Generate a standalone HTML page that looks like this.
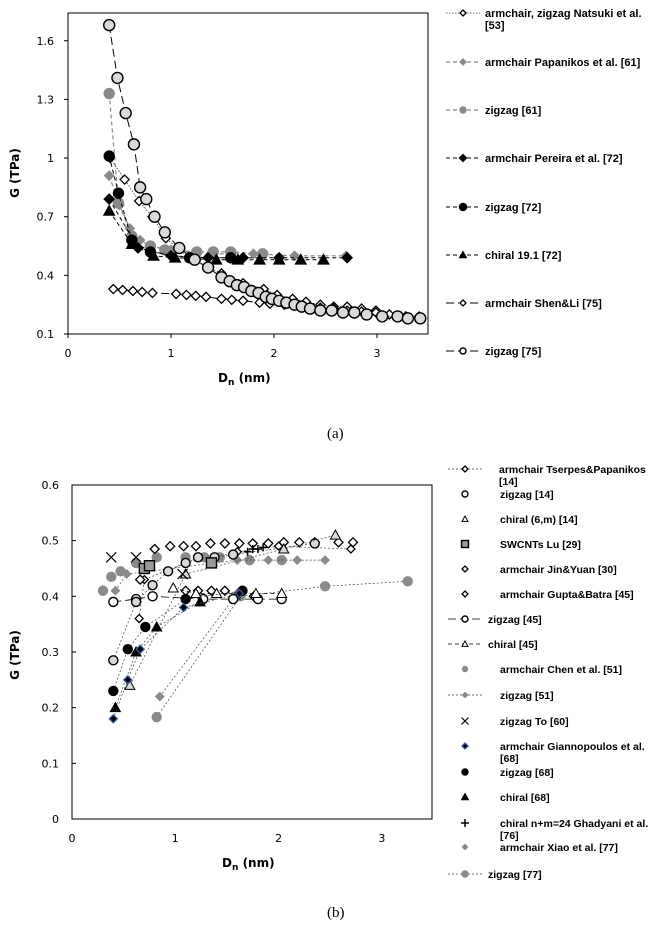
<!DOCTYPE html>
<html><head><meta charset="utf-8">
<style>
html,body{margin:0;padding:0;background:#fff;}
svg{display:block;font-family:"Liberation Sans","DejaVu Sans",sans-serif;}
.tick{font-family:"DejaVu Sans","Liberation Sans",sans-serif;font-size:11px;fill:#000;}
.lg{font-size:11px;font-weight:bold;fill:#000;}
.lg2{font-size:10.5px;font-weight:bold;fill:#000;}
.at{font-family:"DejaVu Sans","Liberation Sans",sans-serif;font-size:12px;font-weight:bold;}
.cap{font-family:"Liberation Serif",serif;font-size:15px;}
</style></head>
<body>
<svg id="chart" width="666" height="941" viewBox="0 0 666 941">
<rect x="68" y="13" width="360" height="321" fill="none" stroke="#000" stroke-width="1"/>
<rect x="72" y="485" width="360" height="334" fill="none" stroke="#000" stroke-width="1"/>
<text class="at" transform="translate(19,173) rotate(-90)" text-anchor="middle">G (TPa)</text>
<text class="at" x="218" y="382">D<tspan font-size="9" dy="3">n</tspan><tspan dy="-3"> (nm)</tspan></text>
<text class="at" transform="translate(19,655) rotate(-90)" text-anchor="middle">G (TPa)</text>
<text class="at" x="222" y="867">D<tspan font-size="9" dy="3">n</tspan><tspan dy="-3"> (nm)</tspan></text>
<text class="cap" x="327" y="438">(a)</text>
<text class="cap" x="327" y="917">(b)</text>
<g id="g"></g>
</svg>
<script>
// ---------- Chart (a) data ----------
const aTicksX=[0,1,2,3];
const aTicksY=[0.1,0.4,0.7,1,1.3,1.6];
const natsukiD=[0.41,0.55,0.69,0.82,0.95,1.2,1.49,1.7,1.9,2.03,2.18,2.31,2.45,2.58,2.71,2.85,2.99,3.12,3.28,3.41];
const natsukiG=[1.0,0.89,0.78,0.70,0.59,0.48,0.41,0.36,0.33,0.30,0.28,0.265,0.25,0.24,0.24,0.23,0.22,0.20,0.19,0.19];
const papD=[0.40,0.5,0.6,0.7,0.8,1.0,1.4,1.8,2.2,2.7];
const papG=[0.91,0.76,0.64,0.58,0.55,0.53,0.51,0.51,0.50,0.50];
const zz61D=[0.40,0.49,0.62,0.80,0.94,1.25,1.41,1.58,1.89];
const zz61G=[1.33,0.77,0.60,0.55,0.53,0.52,0.52,0.52,0.51];
const perD=[0.40,0.68,1.0,1.36,1.7,2.05,2.71];
const perG=[0.79,0.54,0.50,0.49,0.49,0.49,0.49];
const zz72D=[0.40,0.49,0.62,0.80,1.18,1.58];
const zz72G=[1.01,0.82,0.58,0.52,0.49,0.49];
const chiD=[0.40,0.62,0.83,1.04,1.44,1.65,1.86,2.05,2.26,2.48];
const chiG=[0.73,0.56,0.50,0.49,0.48,0.48,0.48,0.48,0.48,0.48];
const shenD=[0.44,0.53,0.63,0.72,0.82,1.05,1.15,1.24,1.34,1.49,1.59,1.7,1.86,1.96,2.1,2.3,2.45,2.58,2.71,2.85,2.99,3.12,3.28];
const shenG=[0.33,0.325,0.32,0.315,0.31,0.305,0.30,0.295,0.29,0.28,0.275,0.27,0.26,0.255,0.25,0.24,0.235,0.23,0.22,0.215,0.21,0.20,0.19];
const zz75D=[0.40,0.48,0.56,0.64,0.70,0.76,0.84,0.94,1.08,1.23,1.36,1.49,1.57,1.64,1.71,1.78,1.85,1.92,1.98,2.05,2.12,2.2,2.27,2.35,2.45,2.56,2.67,2.78,2.9,3.05,3.2,3.3,3.42];
const zz75G=[1.68,1.41,1.23,1.07,0.85,0.79,0.70,0.62,0.54,0.48,0.44,0.39,0.37,0.35,0.34,0.32,0.31,0.29,0.28,0.27,0.26,0.25,0.24,0.23,0.22,0.22,0.21,0.21,0.20,0.19,0.19,0.18,0.18];
// ---------- Chart (b) data ----------
const bTicksX=[0,1,2,3];
const bTicksY=[0,0.1,0.2,0.3,0.4,0.5,0.6];
const tserD=[0.65,0.7,1.1,1.6,2.0,2.7];
const tserG=[0.36,0.43,0.46,0.48,0.49,0.485];
const zz14D=[0.4,0.62,0.78,0.93,1.1,1.22,1.38,1.56,2.35];
const zz14G=[0.285,0.39,0.42,0.445,0.46,0.47,0.47,0.475,0.495];
const ch14D=[0.56,1.1,2.05,2.55];
const ch14G=[0.24,0.44,0.485,0.51];
const luD=[0.7,0.75,1.35];
const luG=[0.45,0.455,0.46];
const jinD=[0.8,0.95,1.08,1.2,1.34,1.48,1.62,1.75,1.9,2.05,2.2,2.35,2.58,2.72];
const jinG=[0.485,0.49,0.49,0.49,0.495,0.495,0.495,0.495,0.495,0.497,0.497,0.497,0.497,0.497];
const guptaD=[0.66,1.1,1.22,1.35,1.48,1.62,1.76];
const guptaG=[0.43,0.41,0.41,0.41,0.41,0.405,0.40];
const zz45D=[0.4,0.62,0.78,1.27,1.56,1.8,2.03];
const zz45G=[0.39,0.395,0.40,0.395,0.395,0.395,0.395];
const ch45D=[0.98,1.2,1.4,1.78,2.03];
const ch45G=[0.415,0.405,0.405,0.405,0.405];
const chenD=[0.3,0.38,0.47,0.62,0.82,1.1,1.28,1.43,1.72,2.03];
const chenG=[0.41,0.435,0.445,0.46,0.47,0.47,0.47,0.47,0.465,0.465];
const zz51D=[0.42,0.53,1.6,1.9,2.18,2.45];
const zz51G=[0.41,0.44,0.465,0.465,0.465,0.465];
const toD=[0.38,0.62,1.07];
const toG=[0.47,0.47,0.44];
const gianD=[0.4,0.54,0.66,1.08,1.62];
const gianG=[0.18,0.25,0.305,0.38,0.405];
const zz68D=[0.4,0.54,0.71,1.1,1.65];
const zz68G=[0.23,0.305,0.345,0.395,0.41];
const ch68D=[0.42,0.62,0.82,1.24];
const ch68G=[0.2,0.3,0.345,0.39];
const ghaD=[1.7,1.75,1.8,1.85];
const ghaG=[0.48,0.485,0.485,0.488];
const xiaoD=[0.85,1.6];
const xiaoG=[0.22,0.405];
const zz77D=[0.82,1.63,2.45,3.25];
const zz77G=[0.183,0.40,0.418,0.427];

const NS='http://www.w3.org/2000/svg';
const root=document.getElementById('g');
const xa=v=>68+103*v, ya=g=>334-(g-0.1)*195.5;
const xb=v=>72+103.3*v, yb=g=>819-556.7*g;

function el(tag,attrs,parent){const e=document.createElementNS(NS,tag);for(const k in attrs)e.setAttribute(k,attrs[k]);(parent||root).appendChild(e);return e;}

function marker(type,x,y,s,name){
  let e;
  const p=(pts)=>pts.map(q=>q.join(',')).join(' ');
  if(type.endsWith('dia')){
    const fill={odia:'#fff',gdia:'#8a8a8a',bdia:'#000',bldia:'#000'}[type];
    const stroke={odia:'#000',gdia:'#8a8a8a',bdia:'#000',bldia:'#3a5a9a'}[type];
    e=el('polygon',{points:p([[x,y-s],[x+s,y],[x,y+s],[x-s,y]]),fill:fill,stroke:stroke,'stroke-width':1.3});
  } else if(type.endsWith('cir')){
    const fill={ocir:'#fff',gcir:'#8a8a8a',bcir:'#000',lgcir:'#d9d9d9'}[type];
    const stroke={ocir:'#000',gcir:'#8a8a8a',bcir:'#000',lgcir:'#000'}[type];
    e=el('circle',{cx:x,cy:y,r:s,fill:fill,stroke:stroke,'stroke-width':1.4});
  } else if(type.endsWith('tri')){
    const fill={otri:'#fff',btri:'#000',gtri:'#d9d9d9'}[type];
    e=el('polygon',{points:p([[x,y-s],[x+s,y+s*0.8],[x-s,y+s*0.8]]),fill:fill,stroke:'#000','stroke-width':1});
  } else if(type==='gsq'){
    e=el('rect',{x:x-s,y:y-s,width:2*s,height:2*s,fill:'#9a9a9a',stroke:'#000','stroke-width':1.4});
  } else if(type==='x'){
    e=el('path',{d:`M${x-s},${y-s}L${x+s},${y+s}M${x-s},${y+s}L${x+s},${y-s}`,stroke:'#000','stroke-width':1.2,fill:'none'});
  } else if(type==='plus'){
    e=el('path',{d:`M${x-s},${y}L${x+s},${y}M${x},${y-s}L${x},${y+s}`,stroke:'#000','stroke-width':1.5,fill:'none'});
  }
  
  
  return e;
}

function series(D,G,fx,fy,type,size,line,name){
  if(line){
    const pl=el('polyline',{points:D.map((d,i)=>fx(d)+','+fy(G[i])).join(' '),fill:'none',stroke:line.c,'stroke-width':line.w,'stroke-dasharray':line.d});
    
    
  }
  D.forEach((d,i)=>marker(type,fx(d),fy(G[i]),size,name+'-point'));
}

function legend(y,type,size,line,txt,tx,cls,name,sx){
  if(line){
    const ln=el('line',{x1:sx-17,x2:sx+17,y1:y,y2:y,stroke:line.c,'stroke-width':line.w,'stroke-dasharray':line.d});
    
    
  }
  marker(type,sx,y,size,name+'-legend-marker');
  const lines=txt.split('\n');
  lines.forEach((t,i)=>{
    const te=el('text',{x:tx,y:y+4+i*12,'class':cls});
    te.textContent=t;
    
    
  });
}

// axes ticks
aTicksY.forEach(v=>{
  const t=el('text',{x:54,y:ya(v)+4,'text-anchor':'end','class':'tick'});t.textContent=String(v);
  
  
  el('line',{x1:64,x2:68,y1:ya(v),y2:ya(v),stroke:'#000'});
});
aTicksX.forEach(v=>{
  const t=el('text',{x:xa(v),y:357,'text-anchor':'middle','class':'tick'});t.textContent=String(v);
  
  
  el('line',{x1:xa(v),x2:xa(v),y1:334,y2:338,stroke:'#000'});
});
bTicksY.forEach(v=>{
  const t=el('text',{x:59,y:yb(v)+4,'text-anchor':'end','class':'tick'});t.textContent=v.toFixed(1).replace('0.0','0');
  
  
  el('line',{x1:72,x2:76,y1:yb(v),y2:yb(v),stroke:'#000'});
});
bTicksX.forEach(v=>{
  const t=el('text',{x:xb(v),y:842,'text-anchor':'middle','class':'tick'});t.textContent=String(v);
  
  
});

// chart (a) series
const L={dot:{c:'#333',w:0.8,d:'1.5,1.5'},gdash:{c:'#888',w:1.2,d:'4,3'},bdash:{c:'#000',w:1,d:'4,3'},long:{c:'#000',w:1,d:'8,4'}};
series(natsukiD,natsukiG,xa,ya,'odia',4.5,L.dot,'natsuki');
series(shenD,shenG,xa,ya,'odia',4.5,L.long,'shen-li');
series(papD,papG,xa,ya,'gdia',4.5,L.gdash,'papanikos');
series(zz61D,zz61G,xa,ya,'gcir',5,L.gdash,'zigzag-61');
series(chiD,chiG,xa,ya,'btri',5.5,L.bdash,'chiral-72');
series(perD,perG,xa,ya,'bdia',5,L.bdash,'pereira');
series(zz72D,zz72G,xa,ya,'bcir',5,L.bdash,'zigzag-72');
series(zz75D,zz75G,xa,ya,'lgcir',5.5,L.long,'zigzag-75');

// chart (b) series
const T={c:'#444',w:0.7,d:'2,2'};
series(zz77D,zz77G,xb,yb,'gcir',4.5,T,'zigzag-77');
series(xiaoD,xiaoG,xb,yb,'gdia',4,T,'xiao');
series(chenD,chenG,xb,yb,'gcir',4.5,null,'chen');
series(zz51D,zz51G,xb,yb,'gdia',4,T,'zigzag-51');
series(jinD,jinG,xb,yb,'odia',4.5,null,'jin-yuan');
series(tserD,tserG,xb,yb,'odia',4,T,'tserpes');
series(guptaD,guptaG,xb,yb,'odia',4.5,null,'gupta-batra');
series(zz45D,zz45G,xb,yb,'ocir',4.5,{c:'#000',w:0.8,d:'8,4'},'zigzag-45');
series(ch45D,ch45G,xb,yb,'otri',5,{c:'#000',w:0.8,d:'4,3'},'chiral-45');
series(zz14D,zz14G,xb,yb,'lgcir',4.5,T,'zigzag-14');
series(ch14D,ch14G,xb,yb,'gtri',5,T,'chiral-14');
series(luD,luG,xb,yb,'gsq',5,null,'swcnt-lu');
series(toD,toG,xb,yb,'x',5,null,'zigzag-to');
series(ch68D,ch68G,xb,yb,'btri',5,T,'chiral-68');
series(zz68D,zz68G,xb,yb,'bcir',4.5,T,'zigzag-68');
series(gianD,gianG,xb,yb,'bldia',4,T,'giannopoulos');
series(ghaD,ghaG,xb,yb,'plus',4,null,'ghadyani');

// legend (a)
const la=[[13,'odia',3,L.dot,'armchair, zigzag Natsuki et al.\n[53]','natsuki'],
[62,'gdia',3,L.gdash,'armchair Papanikos et al. [61]','papanikos'],
[110,'gcir',3,L.gdash,'zigzag [61]','zigzag-61'],
[158,'bdia',3.5,L.bdash,'armchair Pereira et al. [72]','pereira'],
[207,'bcir',3.5,L.bdash,'zigzag [72]','zigzag-72'],
[255,'btri',3.5,L.bdash,'chiral 19.1 [72]','chiral-72'],
[303,'odia',3,L.long,'armchair Shen&Li [75]','shen-li'],
[351,'ocir',3,L.long,'zigzag [75]','zigzag-75']];
la.forEach(r=>legend(r[0],r[1],r[2],r[3],r[4],485,'lg',r[5],463));

// legend (b)
const lb=[[469,'odia',3,T,'armchair Tserpes&Papanikos\n[14]',499,'tserpes'],
[494,'ocir',3,null,'zigzag [14]',500,'zigzag-14'],
[519,'otri',3,null,'chiral (6,m) [14]',500,'chiral-14'],
[544,'gsq',3.5,null,'SWCNTs Lu [29]',500,'swcnt-lu'],
[569,'odia',3,null,'armchair Jin&Yuan  [30]',500,'jin-yuan'],
[594,'odia',3,null,'armchair Gupta&Batra [45]',500,'gupta-batra'],
[619,'ocir',3,{c:'#000',w:0.8,d:'8,4'},'zigzag [45]',488,'zigzag-45'],
[644,'otri',3,{c:'#000',w:0.8,d:'4,3'},'chiral [45]',488,'chiral-45'],
[669,'gcir',2.5,null,'armchair Chen et al. [51]',500,'chen'],
[695,'gdia',2.5,T,'zigzag [51]',500,'zigzag-51'],
[721,'x',3.5,null,'zigzag To [60]',500,'zigzag-to'],
[746,'bldia',3,null,'armchair Giannopoulos et al.\n[68]',500,'giannopoulos'],
[772,'bcir',3,null,'zigzag [68]',500,'zigzag-68'],
[797,'btri',3.5,null,'chiral [68]',500,'chiral-68'],
[823,'plus',4,null,'chiral n+m=24 Ghadyani et al.\n[76]',500,'ghadyani'],
[847,'gdia',2.5,null,'armchair Xiao et al. [77]',500,'xiao'],
[874,'gcir',3,T,'zigzag [77]',488,'zigzag-77']];
lb.forEach(r=>legend(r[0],r[1],r[2],r[3],r[4],r[5],'lg2',r[6],465));
</script>
</body></html>
